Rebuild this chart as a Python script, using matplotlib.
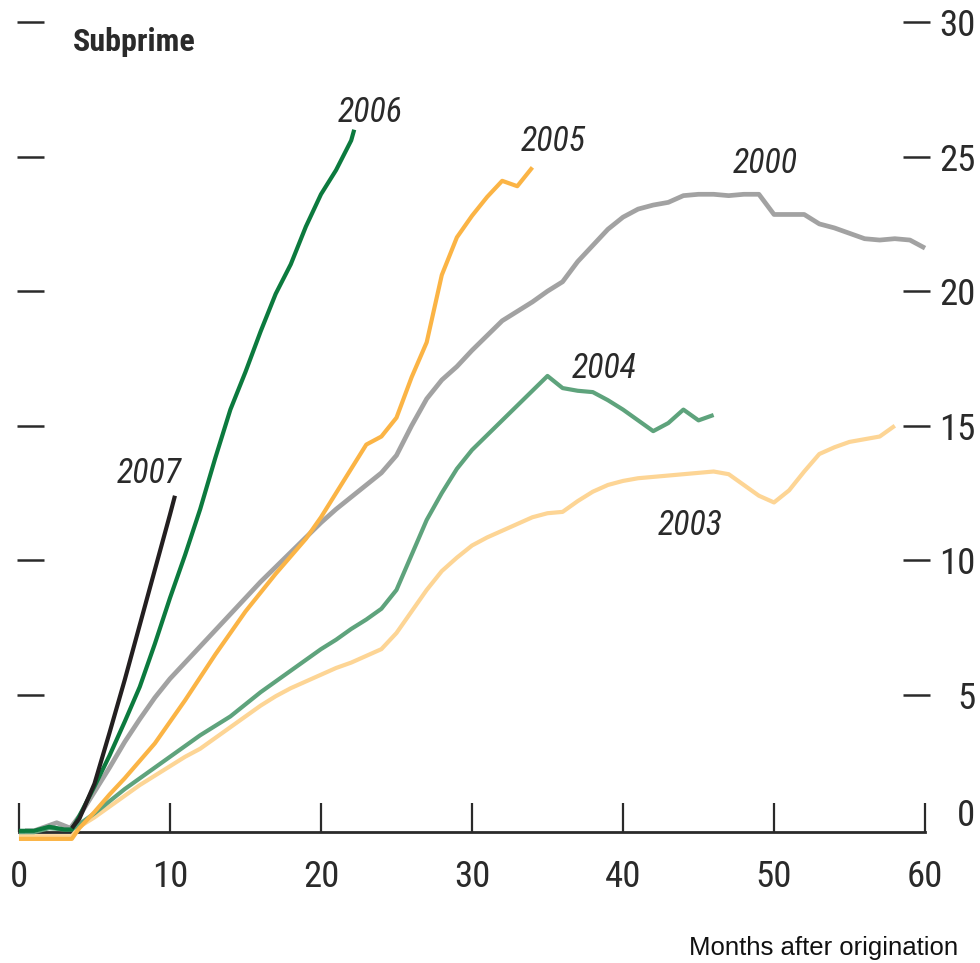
import matplotlib
matplotlib.use("Agg")
import matplotlib.pyplot as plt
from matplotlib import font_manager
from matplotlib.font_manager import FontProperties

# ---------------- data ----------------
months_2007 = [3.5, 4, 5, 6, 7, 8, 9, 10, 10.33]
rate_2007 = [0.05, 0.4, 1.7, 3.6, 5.55, 7.6, 9.65, 11.7, 12.4]

months_2006 = [0, 1, 2, 3, 3.5] + list(range(4, 23)) + [22.2]
rate_2006 = [-0.05, -0.05, 0.1, 0.0, 0.0,
             0.5, 1.6, 2.75, 4.0, 5.3, 6.9, 8.6, 10.2, 11.9, 13.8,
             15.6, 17.0, 18.5, 19.9, 21.0, 22.4, 23.6, 24.5, 25.6, 26.0]

months_2005 = [0, 1, 2, 3, 3.5] + list(range(4, 35))
rate_2005 = [-0.35, -0.35, -0.35, -0.35, -0.35,
             0.05, 0.65, 1.3, 1.9, 2.55, 3.2, 4.0, 4.8, 5.65, 6.5,
             7.3, 8.1, 8.8, 9.5, 10.15, 10.8, 11.6, 12.5, 13.4, 14.3,
             14.6, 15.3, 16.8, 18.1, 20.6, 22.0, 22.8, 23.5, 24.1, 23.9, 24.6]

months_2000 = [0.4, 1, 2, 2.5, 3.4] + list(range(4, 61))
rate_2000 = [-0.05, -0.05, 0.15, 0.25, 0.05,
             0.5, 1.4, 2.3, 3.25, 4.1, 4.9, 5.6, 6.2, 6.8, 7.4,
             8.0, 8.6, 9.2, 9.75, 10.3, 10.85, 11.4, 11.9, 12.35, 12.8,
             13.25, 13.9, 15.0, 16.0, 16.7, 17.2, 17.8, 18.35, 18.9, 19.25,
             19.6, 20.0, 20.35, 21.1, 21.7, 22.3, 22.75, 23.05, 23.2, 23.3,
             23.55, 23.6, 23.6, 23.55, 23.6, 23.6, 22.85, 22.85, 22.85, 22.5,
             22.35, 22.15, 21.95, 21.9, 21.95, 21.9, 21.6]

months_2004 = [0, 1, 2, 3, 3.5] + list(range(4, 47))
rate_2004 = [-0.1, -0.1, 0.05, 0.0, 0.0,
             0.2, 0.6, 1.05, 1.5, 1.9, 2.3, 2.7, 3.1, 3.5, 3.85,
             4.2, 4.65, 5.1, 5.5, 5.9, 6.3, 6.7, 7.05, 7.45, 7.8,
             8.2, 8.9, 10.2, 11.5, 12.5, 13.4, 14.1, 14.65, 15.2, 15.75,
             16.3, 16.85, 16.4, 16.3, 16.25, 15.95, 15.6, 15.2, 14.8, 15.1,
             15.6, 15.2, 15.4]

months_2003 = [0, 1, 2, 3, 3.5] + list(range(4, 59))
rate_2003 = [-0.25, -0.25, -0.25, -0.25, -0.25,
             0.1, 0.45, 0.85, 1.25, 1.65, 2.0, 2.35, 2.7, 3.0, 3.4,
             3.8, 4.2, 4.6, 4.95, 5.25, 5.5, 5.75, 6.0, 6.2, 6.45,
             6.7, 7.3, 8.1, 8.9, 9.6, 10.1, 10.55, 10.85, 11.1, 11.35,
             11.6, 11.75, 11.8, 12.2, 12.55, 12.8, 12.95, 13.05, 13.1, 13.15,
             13.2, 13.25, 13.3, 13.2, 12.8, 12.4, 12.15, 12.6, 13.3, 13.95,
             14.2, 14.4, 14.5, 14.6, 15.0]

series_names = ["2003", "2004", "2000", "2005", "2006", "2007"]
x_ticks = [0, 10, 20, 30, 40, 50, 60]
y_ticks = [5, 10, 15, 20, 25, 30]

# ---------------- fonts ----------------
files = [f.fname for f in font_manager.fontManager.ttflist]


def pick(candidates, fallback):
    low = {fn.lower().replace("\\", "/").split("/")[-1]: fn for fn in files}
    for c in candidates:
        for base, fn in low.items():
            if base == c.lower():
                return FontProperties(fname=fn)
    return fallback


fp_reg = pick(["LiberationSansNarrow-Regular.ttf", "RobotoCondensed-Regular.ttf",
               "DejaVuSansCondensed.ttf", "NotoSans-Condensed.ttf",
               "OpenSans-CondensedRegular.ttf"],
              FontProperties(family=["Roboto", "DejaVu Sans"]))
fp_it = pick(["LiberationSansNarrow-Italic.ttf", "RobotoCondensed-Italic.ttf",
              "DejaVuSansCondensed-Oblique.ttf", "NotoSans-CondensedItalic.ttf",
              "OpenSans-CondensedItalic.ttf"],
             FontProperties(family=["Roboto", "DejaVu Sans"], style="italic"))
fp_bold = pick(["LiberationSansNarrow-Bold.ttf", "RobotoCondensed-Bold.ttf",
                "DejaVuSansCondensed-Bold.ttf", "NotoSans-CondensedBold.ttf",
                "OpenSans-CondensedBold.ttf"],
               FontProperties(family=["Roboto", "DejaVu Sans"], weight="bold"))
names = {f.name for f in font_manager.fontManager.ttflist}
regular = "Liberation Sans" if "Liberation Sans" in names else "DejaVu Sans"


def fp(base, size):
    p = base.copy()
    p.set_size(size)
    return p


colors = {
    "2003": "#fdd595",
    "2004": "#5ea37c",
    "2000": "#a2a2a2",
    "2005": "#fbb445",
    "2006": "#0c7a3e",
    "2007": "#231f20",
}
data = {
    "2003": (months_2003, rate_2003),
    "2004": (months_2004, rate_2004),
    "2000": (months_2000, rate_2000),
    "2005": (months_2005, rate_2005),
    "2006": (months_2006, rate_2006),
    "2007": (months_2007, rate_2007),
}
label_pos = {
    "2007": (6.49, 12.89),
    "2006": (21.13, 26.29),
    "2005": (33.25, 25.21),
    "2000": (47.28, 24.40),
    "2004": (36.62, 16.79),
    "2003": (42.32, 10.93),
}

fig = plt.figure(figsize=(9.8, 9.63), dpi=100)
ax = fig.add_axes([0.01735, 0.1163, 0.93163, 0.8692])
ax.set_xlim(-0.13, 60.33)
ax.set_ylim(-0.8, 30.3)

for name in series_names:
    xs, ys = data[name]
    lw = 3.4 if name == "2000" else 3.0
    ax.plot(xs, ys, color=colors[name], lw=lw, solid_capstyle="butt",
            solid_joinstyle="round", clip_on=False, zorder=3)
    lx, ly = label_pos[name]
    ax.text(lx, ly, name, ha="left", va="baseline",
            fontproperties=fp(fp_it, 24.5), color="#2a2a2a")

# spines
for s in ["top", "left", "right"]:
    ax.spines[s].set_visible(False)
ax.spines["bottom"].set_position(("data", -0.1))
ax.spines["bottom"].set_bounds(0, 60)
ax.spines["bottom"].set_linewidth(2.0)
ax.spines["bottom"].set_color("#2a2a2a")

tick_fp = fp(fp_reg, 26.5)

# x ticks
ax.set_xticks(x_ticks)
ax.set_xticklabels([str(t) for t in x_ticks])
for lab in ax.get_xticklabels():
    lab.set_fontproperties(tick_fp)
    lab.set_color("#2a2a2a")
ax.tick_params(axis="x", direction="in", length=21, width=1.6,
               color="#2a2a2a", pad=19)

# y ticks: left dashes without labels, right dashes with labels
ax.set_yticks(y_ticks)
ax.yaxis.set_ticks_position("both")
ax.tick_params(axis="y", which="both", direction="in", length=19.5, width=1.8,
               color="#2a2a2a", left=True, right=True,
               labelleft=False, labelright=True, pad=33)
ax.set_yticklabels([str(t) for t in y_ticks])
for t in ax.yaxis.get_major_ticks():
    t.label2.set_fontproperties(tick_fp)
    t.label2.set_color("#2a2a2a")
    t.label2.set_horizontalalignment("right")
# "0" label on the right (no dash)
ax.text(1.0 + 45 / 913, 0.5, "0", transform=ax.get_yaxis_transform(),
        ha="right", va="center", fontproperties=tick_fp, color="#2a2a2a")

# title and axis note
fig.text(73 / 980, 1 - 51 / 963, "Subprime", ha="left", va="baseline",
         fontproperties=fp(fp_bold, 23), color="#2a2a2a")
fig.text(958 / 980, 1 - 955 / 963, "Months after origination", ha="right",
         va="baseline", fontsize=18.5, family=[regular, "DejaVu Sans"],
         color="#111111")

fig.savefig("out.png", dpi=100, facecolor="white")
